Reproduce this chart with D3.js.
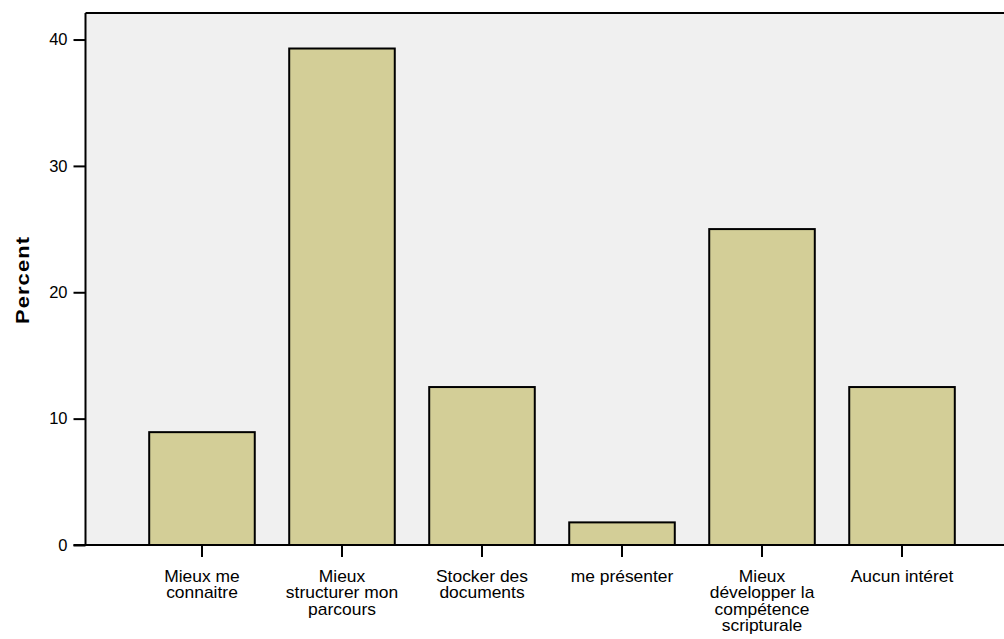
<!DOCTYPE html>
<html><head><meta charset="utf-8">
<script src="https://cdn.jsdelivr.net/npm/d3@7"></script>
<style>body{margin:0;background:#fff}svg{display:block}text{font-family:Arial,"Liberation Sans",sans-serif}</style>
</head><body>
<svg id="c" width="1004" height="639"></svg>
<script>
const categories = ["Mieux me connaitre","Mieux structurer mon parcours","Stocker des documents","me présenter","Mieux développer la compétence scripturale","Aucun intéret"];
const labelLines = [["Mieux me","connaitre"],["Mieux","structurer mon","parcours"],["Stocker des","documents"],["me présenter"],["Mieux","développer la","compétence","scripturale"],["Aucun intéret"]];
const percents = [8.93, 39.29, 12.5, 1.79, 25.0, 12.5];
const yTicks = [0,10,20,30,40];

const svg = d3.select("#c");
const L = 85.5, T = 13, B = 545, R = 1004;
const x = d3.scaleBand().domain(categories).range([L, 1018.5]).paddingInner(0.246).paddingOuter(0.455);
const y = d3.scaleLinear().domain([0, 42.1]).range([B, T]);

svg.append("rect").attr("x", L).attr("y", T).attr("width", R - L).attr("height", B - T).attr("fill", "#f0f0f0");

svg.selectAll("rect.bar").data(percents).join("rect").attr("class","bar")
  .attr("x", (d,i) => x(categories[i]))
  .attr("y", d => y(d))
  .attr("width", x.bandwidth())
  .attr("height", d => B - y(d))
  .attr("fill", "#d3ce97").attr("stroke", "#000").attr("stroke-width", 2);

svg.append("line").attr("x1", L).attr("x2", R).attr("y1", T).attr("y2", T).attr("stroke","#000").attr("stroke-width",2);

const yAxis = svg.append("g").attr("transform", `translate(${L},0)`)
  .call(d3.axisLeft(y).tickValues(yTicks).tickSize(12).tickPadding(6).tickFormat(d3.format("d")));
yAxis.select(".domain").attr("stroke-width", 2).attr("d", `M0,${T}V${B}`);
yAxis.selectAll(".tick line").attr("stroke-width", 2);
yAxis.selectAll(".tick text").attr("font-size", 16.5).attr("fill","#000").attr("font-family","Arial, 'Liberation Sans', sans-serif");

const xAxis = svg.append("g").attr("transform", `translate(0,${B})`)
  .call(d3.axisBottom(x).tickSize(12).tickFormat(""));
xAxis.select(".domain").attr("stroke-width", 2).attr("d", `M${L-12},0H${R}`);
xAxis.selectAll(".tick line").attr("stroke-width", 2);
xAxis.selectAll(".tick").each(function(d,i){
  const t = d3.select(this).append("text").attr("fill","#000").attr("font-size",16)
    .attr("transform","scale(1.09,1)")
    .attr("text-anchor","middle").attr("font-family","Arial, 'Liberation Sans', sans-serif");
  labelLines[i].forEach((ln,j) => t.append("tspan").attr("x",0).attr("y", 37 + j*16.3).text(ln));
});

svg.append("text").attr("transform", "translate(28.5,280) rotate(-90) scale(1.15,1)")
  .attr("text-anchor","middle").attr("font-weight","bold").attr("font-size",19).attr("letter-spacing",1)
  .attr("fill","#000").text("Percent");
</script>
</body></html>
